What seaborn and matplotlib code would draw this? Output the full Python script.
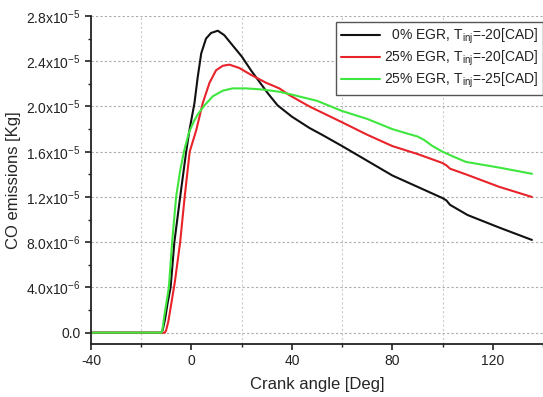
import numpy as np
import pandas as pd
import seaborn as sns
import matplotlib.pyplot as plt
from matplotlib.ticker import MultipleLocator

# crank angle [deg] and CO emissions [x1e-6 kg]
x_egr0_20 = [-40, -12, -11.5, -10.5, -9.5, -8.3, -6.8, -4.5, -2.1, -0.8, 1.2, 2.5, 3.9,
             5.8, 7.8, 10.5, 13.1, 16.4, 20.1, 23.7, 27.0, 30.3, 34.3, 40, 47, 52, 60,
             70, 80, 90, 100, 101.5, 103, 110, 122.5, 135.6]
y_egr0_20 = [0, 0, 0.2, 1.2, 2.6, 4, 8, 12, 16, 17.9, 20.3, 22.6, 24.7,
             26.0, 26.5, 26.7, 26.3, 25.4, 24.4, 23.2, 22.2, 21.2, 20.1, 19.1, 18.1, 17.5, 16.5,
             15.2, 13.9, 12.9, 11.9, 11.7, 11.3, 10.4, 9.3, 8.2]

x_egr25_20 = [-40, -10.6, -10.1, -9.2, -8, -6.6, -4.5, -2.7, -0.7, 1.9, 4.5, 7.2, 9.8,
              12.5, 15.1, 19.1, 23.7, 29.7, 35, 39, 47, 60, 70, 80, 90, 100, 101.5,
              103, 109.3, 122.5, 135.6]
y_egr25_20 = [0, 0, 0.2, 1.0, 2.6, 4.5, 8, 12, 16, 17.9, 20.3, 22.1, 23.2,
              23.6, 23.7, 23.4, 22.8, 22.1, 21.6, 21.0, 20.0, 18.6, 17.5, 16.5, 15.8, 15.0, 14.8,
              14.5, 14.0, 12.9, 12.0]

x_egr25_25 = [-40, -12, -11.6, -10.8, -9.0, -7.7, -6.1, -4.6, -3.0, -1.0, 1.0, 2.5, 5.2,
              8.5, 12.5, 16.4, 21.7, 28.3, 35, 39, 50, 60, 70, 80, 86, 90, 92.6, 96,
              100, 104, 109.3, 122.5, 135.6]
y_egr25_25 = [0, 0, 0.2, 1.5, 4, 8, 12, 14.2, 16, 17.7, 18.7, 19.3, 20.1,
              20.9, 21.4, 21.6, 21.6, 21.5, 21.3, 21.1, 20.5, 19.6, 18.9, 18.0, 17.6, 17.35, 17.05, 16.5,
              16.0, 15.6, 15.1, 14.6, 14.05]

labels = ['  0% EGR, T$_{\\rm inj}$=-20[CAD]',
          '25% EGR, T$_{\\rm inj}$=-20[CAD]',
          '25% EGR, T$_{\\rm inj}$=-25[CAD]']
colors = ['#111111', '#e8232a', '#3ee63e']

x_ticks = [-40, 0, 40, 80, 120]
y_ticks = [0, 4e-6, 8e-6, 1.2e-5, 1.6e-5, 2.0e-5, 2.4e-5, 2.8e-5]
y_tick_labels = ['0.0', '4.0x10$^{-6}$', '8.0x10$^{-6}$', '1.2x10$^{-5}$',
                 '1.6x10$^{-5}$', '2.0x10$^{-5}$', '2.4x10$^{-5}$', '2.8x10$^{-5}$']

sns.set_style('ticks')
plt.rcParams['font.family'] = ['Liberation Sans', 'DejaVu Sans']
plt.rcParams['mathtext.fontset'] = 'custom'
plt.rcParams['mathtext.rm'] = 'Liberation Sans'
plt.rcParams['mathtext.it'] = 'Liberation Sans:italic'
plt.rcParams['text.color'] = '#222222'
plt.rcParams['axes.unicode_minus'] = False

fig = plt.figure(figsize=(5.43, 3.97), dpi=100)
ax = fig.add_axes([91 / 543, 53 / 397, 452 / 543, 328 / 397])

series = [(x_egr0_20, y_egr0_20), (x_egr25_20, y_egr25_20), (x_egr25_25, y_egr25_25)]
for (xs, ys), lab, col in zip(series, labels, colors):
    df = pd.DataFrame({'angle': xs, 'co': np.array(ys) * 1e-6})
    sns.lineplot(data=df, x='angle', y='co', ax=ax, color=col, lw=1.5,
                 label=lab, sort=False, estimator=None)

ax.set_xlim(-40, 140)
ax.set_ylim(-1e-6, 2.8e-5)
ax.set_xticks(x_ticks)
ax.xaxis.set_minor_locator(MultipleLocator(20))
ax.set_yticks(y_ticks)
ax.set_yticklabels(y_tick_labels)
ax.yaxis.set_minor_locator(MultipleLocator(2e-6))

ax.grid(which='major', axis='y', color='#aaaaaa', ls=(0, (2, 2)), lw=0.8)
ax.grid(which='minor', axis='x', color='#cccccc', ls=(0, (2, 2)), lw=0.8)
ax.grid(which='major', axis='x', visible=False)

for s in ['top', 'right']:
    ax.spines[s].set_visible(False)
for s in ['left', 'bottom']:
    ax.spines[s].set_linewidth(1.3)
    ax.spines[s].set_color('#222222')

ax.tick_params(which='major', direction='out', length=4, width=1.2, labelsize=10,
               colors='#222222')
ax.tick_params(which='minor', direction='out', length=2.5, width=1.0, colors='#222222')

ax.set_xlabel('Crank angle [Deg]', fontsize=12, labelpad=6)
ax.set_ylabel('CO emissions [Kg]', fontsize=12, labelpad=4)

leg = ax.legend(loc='upper right', bbox_to_anchor=(1.0, 1 - 22 / 397),
                bbox_transform=fig.transFigure, fontsize=10, frameon=True,
                fancybox=False, edgecolor='#555555', framealpha=1,
                handlelength=2.8, handletextpad=0.3, labelspacing=0.2,
                borderpad=0.35, borderaxespad=0)
leg.get_frame().set_linewidth(1.0)

fig.savefig('out.png', dpi=100)
